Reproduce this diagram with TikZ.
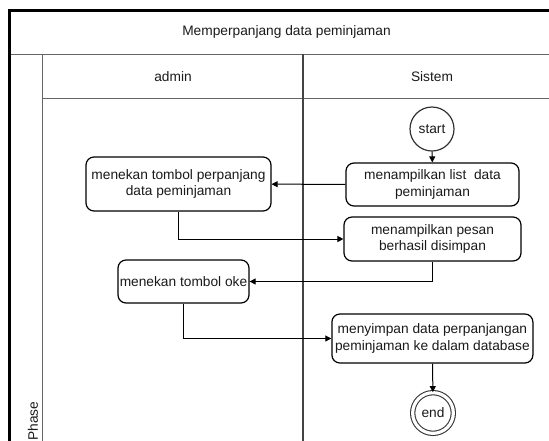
\documentclass[tikz,border=0pt]{standalone}
\usepackage{fontspec}
\setmainfont{Liberation Sans}
\usepackage{tikz}
\usetikzlibrary{arrows.meta,positioning}
\definecolor{laneline}{HTML}{666666}
\definecolor{lanedark}{HTML}{444444}
\definecolor{txtdark}{HTML}{1A1A1A}

\tikzset{
 act/.style={draw=black,rounded corners=6pt,line width=0.9pt,fill=white,
  align=center,inner sep=1pt,text=txtdark,font=\fontsize{10.3}{12.3}\selectfont},
 ini/.style={draw=black!80,circle,line width=0.9pt,minimum size=33pt,
  inner sep=0pt,text=txtdark,font=\fontsize{10.3}{12.3}\selectfont},
 fin/.style={draw=black!80,circle,double,double distance=2.4pt,line width=0.8pt,
  minimum size=30.5pt,inner sep=0pt,text=txtdark,font=\fontsize{10.3}{12.3}\selectfont},
 flow/.style={draw=black,line width=0.75pt,-{Triangle[length=4.5pt,width=4.5pt]}},
 lanetxt/.style={text=txtdark,font=\fontsize{10.3}{12.3}\selectfont}
}

\begin{document}
\begin{tikzpicture}[x=0.75pt,y=-0.75pt]
% 1 unit = 1 px, y grows downwards
\useasboundingbox (0,0) rectangle (549,440);
\clip (0,0) rectangle (549,440);

% ── Pool frame and lanes ─────────────────────────────────────
\draw[laneline,line width=1.1pt] (10,54.3)--(570,54.3);
\draw[laneline,line width=1.1pt] (42.7,54.3)--(42.7,460);
\draw[laneline,line width=1.1pt] (42.7,98.3)--(570,98.3);
\draw[lanedark,line width=0.9pt] (303,54.3)--(303,460);
\draw[black,line width=2.3pt] (9.6,460)--(9.6,10.6)--(570,10.6);

\node[lanetxt] (pool) at (286.5,32) {Memperpanjang data peminjaman};
\node[lanetxt] (laneadmin) at (173,77) {admin};
\node[lanetxt] (lanesistem) at (432,77) {Sistem};
\node[lanetxt,rotate=90,anchor=west,inner sep=0pt] (phase) at (33,441) {Phase};

% ── Activities ──────────────────────────────────────────────
\node[ini] (start) at (432,129) {start};
\node[act,minimum width=129.75pt,minimum height=32.25pt] (tampil)
 at (432.5,184.5) {menampilkan list\ \ data\\peminjaman};
\node[act,minimum width=138.75pt,minimum height=40.5pt] (perpanjang)
 at (178.5,184) {menekan tombol perpanjang\\data peminjaman};
\node[act,minimum width=132.75pt,minimum height=33pt] (pesan)
 at (432.5,239) {menampilkan pesan\\berhasil disimpan};
\node[act,minimum width=98.25pt,minimum height=32.25pt] (oke)
 at (183.5,281.5) {menekan tombol oke};
\node[act,minimum width=150.75pt,minimum height=36.75pt] (simpan)
 at (432.4,338.5) {menyimpan data perpanjangan\\peminjaman ke dalam database};
\node[fin] (end) at (433,413) {end};

% ── Control flow ────────────────────────────────────────────
\draw[flow] (start) -- (tampil);
\draw[flow] (tampil) -- (perpanjang);
\draw[flow] (perpanjang.south) |- (pesan.west);
\draw[flow] (pesan.south) |- (oke.east);
\draw[flow] (oke.south) |- (simpan.west);
\draw[flow] (simpan) -- (end);
\end{tikzpicture}
\end{document}
